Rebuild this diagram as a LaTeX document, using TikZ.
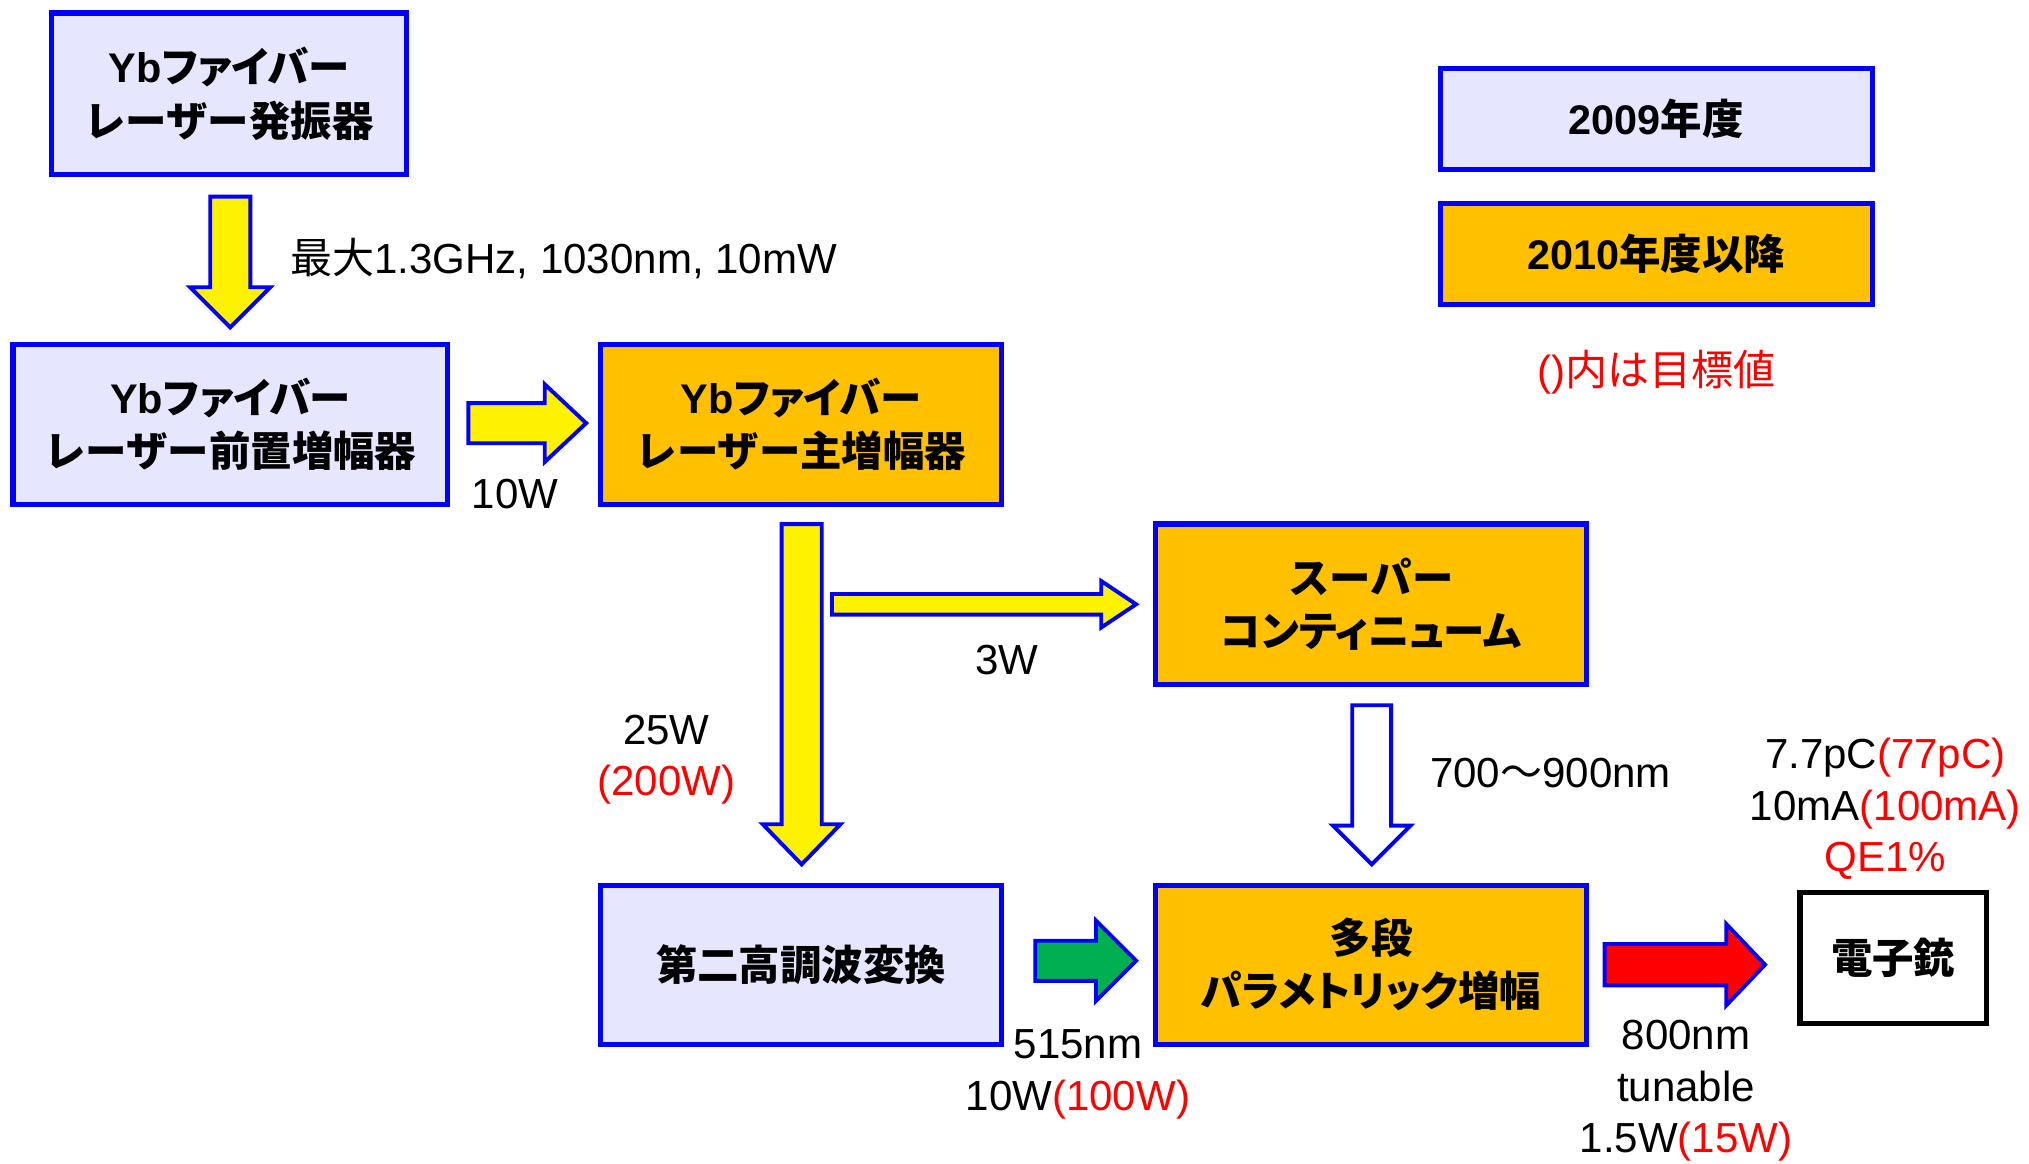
\documentclass[tikz,border=0pt]{standalone}
\usepackage{fontspec}
\setmainfont{Liberation Sans}
\newfontfamily\jp{Noto Sans CJK JP}
\newfontfamily\jpp[RawFeature=+palt]{Noto Sans CJK JP}
\usetikzlibrary{calc}
\definecolor{lav}{RGB}{230,230,255}
\definecolor{org}{RGB}{255,192,0}
\definecolor{bblue}{RGB}{0,0,255}
\definecolor{grn}{RGB}{0,176,80}
\newcommand\J[1]{{\jp #1}}
\newcommand\JP[1]{{\jpp #1}}
\newcommand\R[1]{\textcolor{red}{#1}}
% vertical block arrow: start, tip, shaft half width, head half width, head length, style
\newcommand\DArrow[6]{\draw[#6] let \p1=(#1), \p2=(#2) in
  (\x1-#3pt,\y1) -- (\x1+#3pt,\y1) -- (\x1+#3pt,\y2+#5pt) -- (\x1+#4pt,\y2+#5pt)
  -- (\x1,\y2) -- (\x1-#4pt,\y2+#5pt) -- (\x1-#3pt,\y2+#5pt) -- cycle;}
% horizontal block arrow
\newcommand\RArrow[6]{\draw[#6] let \p1=(#1), \p2=(#2) in
  (\x1,\y1+#3pt) -- (\x2-#5pt,\y1+#3pt) -- (\x2-#5pt,\y1+#4pt) -- (\x2,\y1)
  -- (\x2-#5pt,\y1-#4pt) -- (\x2-#5pt,\y1-#3pt) -- (\x1,\y1-#3pt) -- cycle;}
\begin{document}
\begin{tikzpicture}[x=1pt,y=-1pt,
  box/.style={draw=bblue, line width=4pt, inner sep=0pt, align=center,
    font=\fontsize{32}{41}\selectfont\bfseries},
  lavbox/.style={box, fill=lav},
  orgbox/.style={box, fill=org},
  lbl/.style={inner sep=0pt, align=center, font=\fontsize{32.5}{40}\selectfont},
  arr/.style={draw=bblue, line width=3pt, line join=miter}]
\useasboundingbox (0,0) rectangle (1568,899);
% boxes
\node[lavbox, minimum width=274pt, minimum height=125pt] (b1) at (177,72.5)
  {Yb\JP{ファイバー}\\\J{レーザー発振器}};
\node[lavbox, minimum width=336pt, minimum height=124pt] (b2) at (178,328)
  {Yb\JP{ファイバー}\\\J{レーザー前置増幅器}};
\node[orgbox, minimum width=310pt, minimum height=124pt] (b3) at (619,328)
  {Yb\JP{ファイバー}\\\J{レーザー主増幅器}};
\node[orgbox, minimum width=333pt, minimum height=124pt] (b4) at (1059.5,467)
  {\J{スーパー}\\\JP{コンティニューム}};
\node[lavbox, minimum width=310pt, minimum height=123pt] (b5) at (619,745.5)
  {\J{第二高調波変換}};
\node[orgbox, minimum width=333pt, minimum height=123pt] (b6) at (1059.5,745.5)
  {\J{多段}\\\JP{パラメトリック増幅}};
\node[box, draw=black, fill=white, minimum width=144pt, minimum height=101pt] (b7) at (1463,740.5)
  {\J{電子銃}};
% legend
\node[lavbox, minimum width=334pt, minimum height=78pt] (l1) at (1280,92) {2009\J{年度}};
\node[orgbox, minimum width=334pt, minimum height=78pt] (l2) at (1280,196) {2010\J{年度以降}};
\node[lbl, text=red] (l3) at (1280,288) {()\J{内は目標値}};
% arrows
\coordinate (a1s) at ($(b1.south)+(1,15)$);
\coordinate (a1e) at ($(b2.north)+(0,-11)$);
\DArrow{a1s}{a1e}{15.5}{31}{31}{arr, fill=yellow}
\coordinate (a2s) at ($(b2.east)+(14,-1)$);
\coordinate (a2e) at ($(b3.west)+(-9,0)$);
\RArrow{a2s}{a2e}{15.5}{30}{32}{arr, fill=yellow}
\coordinate (a3s) at ($(b3.south)+(0.5,13)$);
\coordinate (a3e) at ($(b5.north)+(0,-14)$);
\DArrow{a3s}{a3e}{15.5}{30}{31}{arr, fill=yellow}
\coordinate (a4s) at ($(b3.south)+(24,75)$);
\coordinate (a4e) at ($(b4.west)+(-13,0)$);
\RArrow{a4s}{a4e}{8}{18}{27}{arr, fill=yellow}
\coordinate (a5s) at ($(b4.south)+(0.5,14)$);
\coordinate (a5e) at ($(b6.north)+(0,-14)$);
\DArrow{a5s}{a5e}{15}{30}{30}{arr, fill=white}
\coordinate (a6s) at ($(b5.east)+(24,-3)$);
\coordinate (a6e) at ($(b6.west)+(-13,0)$);
\RArrow{a6s}{a6e}{15.5}{31}{31}{arr, fill=grn}
\coordinate (a7s) at ($(b6.east)+(12,0)$);
\coordinate (a7e) at ($(b7.west)+(-25,0)$);
\RArrow{a7s}{a7e}{16}{31.5}{30}{arr, fill=red}
% labels
\node[lbl, anchor=west] (t1) at (224,200) {\J{最大}1.3GHz, 1030nm, 10mW};
\node[lbl] (t2) at (398,382) {10W};
\node[lbl] (t3) at (778,510) {3W};
\node[lbl] (t4) at (515,587) {25W\\\R{(200W)}};
\node[lbl, anchor=west] (t5) at (1105,597) {700\J{〜}900nm};
\node[lbl] (t6) at (833,830) {515nm\\10W\R{(100W)}};
\node[lbl] (t7) at (1303,843) {800nm\\tunable\\1.5W\R{(15W)}};
\node[lbl] (t8) at (1457,625) {7.7pC\R{(77pC)}\\10mA\R{(100mA)}\\\R{QE1\%}};
\end{tikzpicture}
\end{document}
